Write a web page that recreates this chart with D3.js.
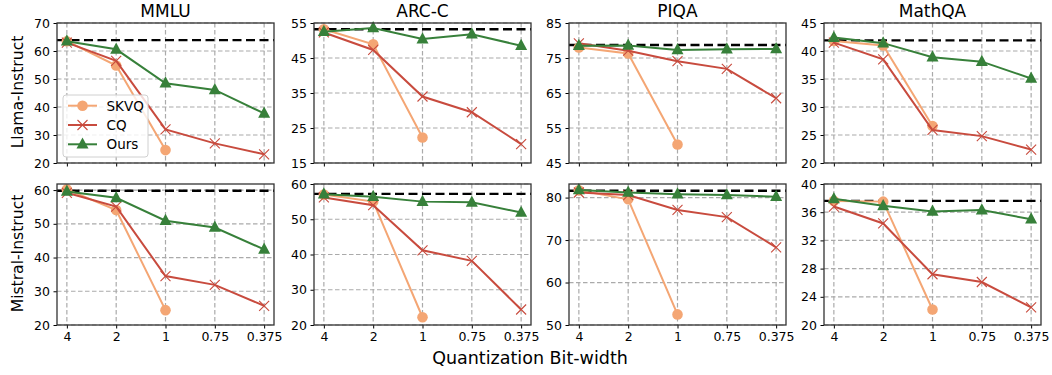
<!DOCTYPE html>
<html><head><meta charset="utf-8">
<script src="https://cdn.jsdelivr.net/npm/d3@7"></script>
<style>
html,body{margin:0;padding:0;background:#fff;}
svg{display:block;font-family:"DejaVu Sans",sans-serif;}
</style></head>
<body>
<svg id="chart" width="1052" height="375"></svg>
<script>
const bits = ["4","2","1","0.75","0.375"];
const datasets = ["MMLU","ARC-C","PIQA","MathQA"];
const models = ["Llama-Instruct","Mistral-Instruct"];
const seriesNames = ["SKVQ","CQ","Ours"];

const llamaSKVQ = [[63.5,54.8,24.6],[53.2,48.9,22.3],[78.0,76.3,50.3],[41.8,41.0,26.6]];
const llamaCQ   = [[63.0,56.5,32.0,27.0,23.1],[52.3,47.3,34.0,29.5,20.4],[79.2,77.1,74.1,71.9,63.5],[41.5,38.5,25.9,24.8,22.4]];
const llamaOurs = [[63.5,60.6,48.5,46.1,37.7],[52.5,53.6,50.4,51.8,48.5],[78.5,78.6,77.3,77.5,77.6],[42.4,41.4,38.9,38.1,35.1]];
const llamaBase = [63.9,53.2,78.7,41.9];

const mistralSKVQ = [[60.2,54.1,24.4],[57.0,55.0,22.2],[81.7,79.6,52.5],[37.6,37.5,22.2]];
const mistralCQ   = [[59.2,55.1,34.5,31.9,25.7],[56.2,54.0,41.2,38.2,24.4],[81.2,80.6,77.1,75.4,68.3],[36.8,34.4,27.2,26.1,22.5]];
const mistralOurs = [[59.6,57.7,50.9,48.9,42.4],[57.1,56.4,55.0,54.8,51.9],[81.8,81.2,80.8,80.6,80.2],[37.9,36.9,36.1,36.3,35.0]];
const mistralBase = [59.8,57.2,81.6,37.6];

const llamaYDomain = [[20,70],[15,55],[45,85],[20,45]];
const llamaYTicks = [[20,30,40,50,60,70],[15,25,35,45,55],[45,55,65,75,85],[20,25,30,35,40,45]];
const mistralYDomain = [[20,61.8],[20,60],[50,83.2],[20,40]];
const mistralYTicks = [[20,30,40,50,60],[20,30,40,50,60],[50,60,70,80],[20,24,28,32,36,40]];

const xTitle = "Quantization Bit-width";

const rows = [
  {model: models[0], skvq: llamaSKVQ, cq: llamaCQ, ours: llamaOurs, base: llamaBase, dom: llamaYDomain, ticks: llamaYTicks},
  {model: models[1], skvq: mistralSKVQ, cq: mistralCQ, ours: mistralOurs, base: mistralBase, dom: mistralYDomain, ticks: mistralYTicks}
];

const colors = {SKVQ:"#f4a674", CQ:"#c84b3e", Ours:"#37803a"};
const panelLeft = [57, 314, 569, 824];
const panelW = 217;
const rowTop = [23, 184];
const rowH = [140, 141];

const svg = d3.select("#chart");

function triPath(r){ return `M0,${-r*1.15}L${r},${r*0.72}L${-r},${r*0.72}Z`; }

rows.forEach((row, ri) => {
  datasets.forEach((ds, ci) => {
    const x0 = panelLeft[ci], y0 = rowTop[ri], h = rowH[ri];
    const g = svg.append("g").attr("transform", `translate(${x0},${y0})`);
    const x = d3.scalePoint().domain(bits).range([0, panelW]).padding(0.2);
    const y = d3.scaleLinear().domain(row.dom[ci]).range([h, 0]);

    // grid
    g.append("g").selectAll("line").data(bits).join("line")
      .attr("x1", d => x(d)).attr("x2", d => x(d)).attr("y1", 0).attr("y2", h)
      .attr("stroke", "#aaaaaa").attr("stroke-width", 1.2).attr("stroke-dasharray", "4.5,2.5");
    g.append("g").selectAll("line").data(row.ticks[ci]).join("line")
      .attr("x1", 0).attr("x2", panelW).attr("y1", d => y(d)).attr("y2", d => y(d))
      .attr("stroke", "#aaaaaa").attr("stroke-width", 1.2).attr("stroke-dasharray", "4.5,2.5");

    const clip = "clip" + ri + ci;
    g.append("clipPath").attr("id", clip).append("rect").attr("x", -8).attr("y", -8).attr("width", panelW + 16).attr("height", h + 16);
    const plot = g.append("g").attr("clip-path", `url(#${clip})`);

    // baseline
    plot.append("line").attr("x1", 0).attr("x2", panelW)
      .attr("y1", y(row.base[ci])).attr("y2", y(row.base[ci]))
      .attr("stroke", "#000").attr("stroke-width", 2.4).attr("stroke-dasharray", "9,4.5");

    const line = d3.line().x((d, i) => x(bits[i])).y(d => y(d));
    const series = [
      {name: "SKVQ", vals: row.skvq[ci]},
      {name: "CQ", vals: row.cq[ci]},
      {name: "Ours", vals: row.ours[ci]}
    ];
    series.forEach(s => {
      plot.append("path").datum(s.vals).attr("d", line)
        .attr("fill", "none").attr("stroke", colors[s.name]).attr("stroke-width", 2);
      const m = plot.append("g").selectAll("g").data(s.vals).join("g")
        .attr("transform", (d, i) => `translate(${x(bits[i])},${y(d)})`);
      if (s.name === "SKVQ") {
        m.append("circle").attr("r", 5.3).attr("fill", colors.SKVQ);
      } else if (s.name === "CQ") {
        m.append("path").attr("d", "M-5,-5L5,5M-5,5L5,-5").attr("stroke", colors.CQ).attr("stroke-width", 1.1).attr("fill", "none");
      } else {
        m.append("path").attr("d", triPath(6)).attr("fill", colors.Ours);
      }
    });

    // axes
    const yAxis = d3.axisLeft(y).tickValues(row.ticks[ci]).tickSize(3.5).tickPadding(3.5).tickFormat(d3.format("d"));
    const ya = g.append("g").call(yAxis);
    ya.select(".domain").remove();
    ya.selectAll("text").attr("font-size", 12.5).attr("fill", "#000").attr("font-family", "DejaVu Sans");
    ya.selectAll("line").attr("stroke", "#000").attr("stroke-width", 1);

    const xAxis = d3.axisBottom(x).tickSize(3.5).tickPadding(3.5);
    const xa = g.append("g").attr("transform", `translate(0,${h})`).call(xAxis);
    xa.select(".domain").remove();
    xa.selectAll("line").attr("stroke", "#000").attr("stroke-width", 1);
    if (ri === 0) xa.selectAll("text").remove();
    else xa.selectAll("text").attr("font-size", 12.5).attr("fill", "#000").attr("font-family", "DejaVu Sans");

    // frame
    g.append("rect").attr("x", 0).attr("y", 0).attr("width", panelW).attr("height", h)
      .attr("fill", "none").attr("stroke", "#333").attr("stroke-width", 1.3);

    if (ri === 0) {
      g.append("text").attr("x", panelW / 2).attr("y", -6).attr("text-anchor", "middle")
        .attr("font-size", 17).text(ds);
    }

    // legend
    if (ri === 0 && ci === 0) {
      const lg = g.append("g").attr("transform", "translate(6,72)");
      lg.append("rect").attr("x", 0).attr("y", 0).attr("width", 85).attr("height", 62).attr("rx", 3)
        .attr("fill", "#fff").attr("fill-opacity", 0.8).attr("stroke", "#d0d0d0");
      seriesNames.forEach((n, i) => {
        const yy = 10.7 + i * 19.3;
        const it = lg.append("g").attr("transform", `translate(0,${yy})`);
        it.append("line").attr("x1", 5).attr("x2", 34).attr("stroke", colors[n]).attr("stroke-width", 2);
        const mk = it.append("g").attr("transform", "translate(19.5,0)");
        if (n === "SKVQ") mk.append("circle").attr("r", 5.3).attr("fill", colors.SKVQ);
        else if (n === "CQ") mk.append("path").attr("d", "M-5,-5L5,5M-5,5L5,-5").attr("stroke", colors.CQ).attr("stroke-width", 1.1);
        else mk.append("path").attr("d", triPath(6)).attr("fill", colors.Ours);
        it.append("text").attr("x", 43.5).attr("y", 0).attr("dy", "0.36em").attr("font-size", 13.5).text(n);
      });
    }
  });

  // row label
  const cy = rowTop[ri] + rowH[ri] / 2 - 1;
  svg.append("text").attr("transform", `translate(23,${cy}) rotate(-90)`)
    .attr("text-anchor", "middle").attr("font-size", 15.6).text(row.model);
});

svg.append("text").attr("x", 530).attr("y", 364).attr("text-anchor", "middle")
  .attr("font-size", 17.5).text(xTitle);
</script>
</body></html>
